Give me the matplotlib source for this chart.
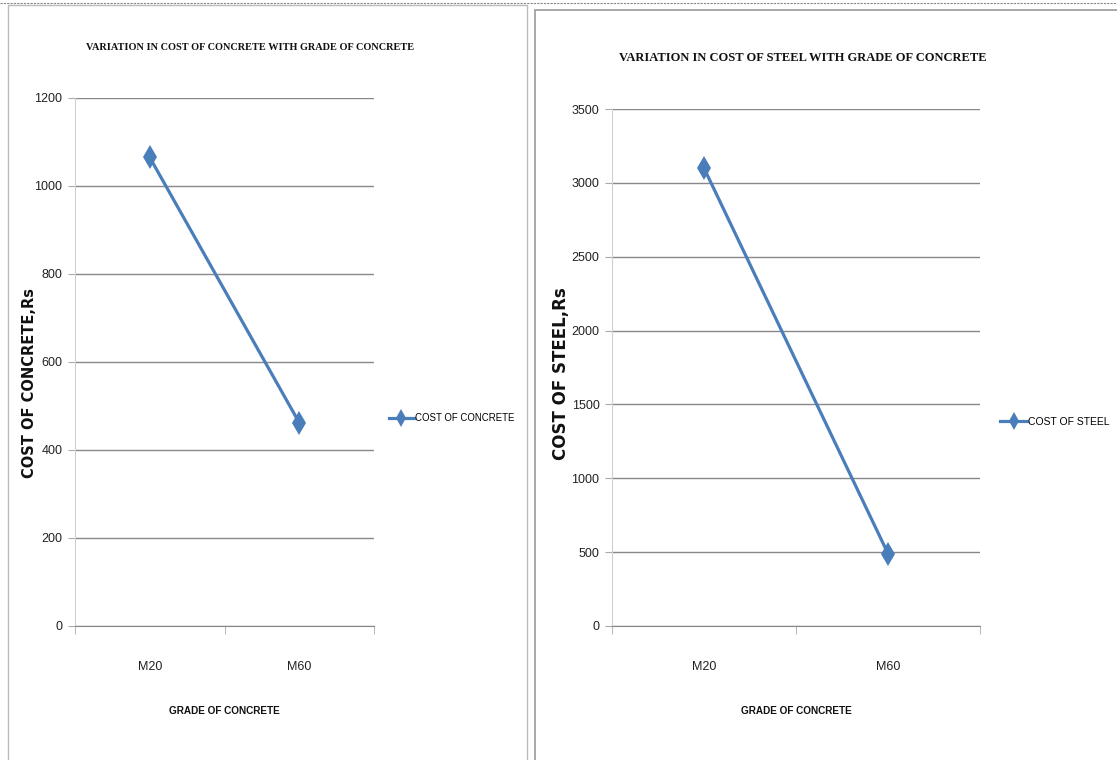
import matplotlib
matplotlib.use("Agg")
import matplotlib.pyplot as plt
from matplotlib.patches import Rectangle
from matplotlib.lines import Line2D

grades = ["M20", "M60"]
cost_concrete = [1065, 462]
cost_steel = [3100, 490]

W, H = 1117, 760
fig = plt.figure(figsize=(W / 100, H / 100), dpi=100)

SANS = ["Liberation Sans", "DejaVu Sans"]
SERIF = ["Liberation Serif", "DejaVu Serif"]
BLUE = "#4A7EBB"

def px_axes(x0, y0, x1, y1):
    return fig.add_axes([x0 / W, 1 - y1 / H, (x1 - x0) / W, (y1 - y0) / H])

# panel borders
fig.patches.append(Rectangle((8 / W, -0.01), (527 - 8) / W, (H - 5) / H + 0.01,
                             transform=fig.transFigure, fill=False, ec="#bbbbbb", lw=1))
fig.patches.append(Rectangle((535 / W, -0.01), (W - 535 + 5) / W, (H - 10) / H + 0.01,
                             transform=fig.transFigure, fill=False, ec="#999999", lw=1.2))
fig.lines.append(Line2D([0, 1], [1 - 3 / H, 1 - 3 / H], transform=fig.transFigure,
                        color="#888888", lw=0.8, ls=(0, (2, 1))))

def draw(ax, vals, ymax, step, title, title_size, ylabel, ylabel_size, legend,
         legend_size, title_xy, ylabel_xy, legend_xy):
    x = list(range(len(grades)))
    ax.plot(x, vals, color=BLUE, lw=2.3, marker="d", ms=12, mew=0, mfc=BLUE)
    ax.set_xlim(-0.5, len(grades) - 0.5)
    ax.set_ylim(0, ymax)
    ax.set_yticks(range(0, ymax + 1, step))
    ax.set_xticks(x)
    ax.set_xticklabels(grades)
    ax.set_xticks([i - 0.5 for i in range(len(grades) + 1)], minor=True)
    ax.tick_params(axis="x", which="major", length=0, pad=25)
    ax.tick_params(axis="x", which="minor", length=6, color="#aaaaaa", direction="out")
    ax.tick_params(axis="y", length=5, color="#aaaaaa", pad=4)
    for lab in ax.get_xticklabels() + ax.get_yticklabels():
        lab.set_family(SANS)
        lab.set_fontsize(9)
        lab.set_color("#222222")
    ax.grid(axis="y", color="#888888", lw=1)
    ax.set_axisbelow(True)
    for s in ("top", "right"):
        ax.spines[s].set_visible(False)
    ax.spines["left"].set_color("#d0d0d0")
    ax.spines["bottom"].set_color("#888888")
    ax.set_xlabel("GRADE OF CONCRETE", family=SANS, fontsize=7.2, fontweight="bold",
                  labelpad=24, color="#111111")
    fig.text(title_xy[0] / W, 1 - title_xy[1] / H, title, family=SERIF,
             fontsize=title_size, fontweight="bold", ha="center", va="center",
             color="#111111")
    fig.text(ylabel_xy[0] / W, 1 - ylabel_xy[1] / H, ylabel, family="DejaVu Sans",
             fontsize=ylabel_size, fontweight="heavy", rotation=90, ha="center",
             va="center", color="#111111")
    h = Line2D([], [], color=BLUE, lw=2.3, marker="d", ms=9, mew=0)
    fig.legend([h], [legend], loc="center left",
               bbox_to_anchor=(legend_xy[0] / W, 1 - legend_xy[1] / H),
               frameon=False, prop={"family": SANS, "size": legend_size},
               handlelength=2.6, handletextpad=0.1, borderaxespad=0, borderpad=0)

ax1 = px_axes(75, 98, 374, 626)
draw(ax1, cost_concrete, 1200, 200,
     "VARIATION IN COST OF CONCRETE WITH GRADE OF CONCRETE", 7.4,
     "COST OF CONCRETE,Rs", 10.5, "COST OF CONCRETE", 6.9,
     (250, 47), (30, 383), (389, 418))

ax2 = px_axes(612, 109, 980, 626)
draw(ax2, cost_steel, 3500, 500,
     "VARIATION IN COST OF STEEL WITH GRADE OF CONCRETE", 9,
     "COST OF STEEL,Rs", 12, "COST OF STEEL", 7.5,
     (803, 58), (561, 374), (1000, 422))

fig.savefig("out.png", dpi=100)
